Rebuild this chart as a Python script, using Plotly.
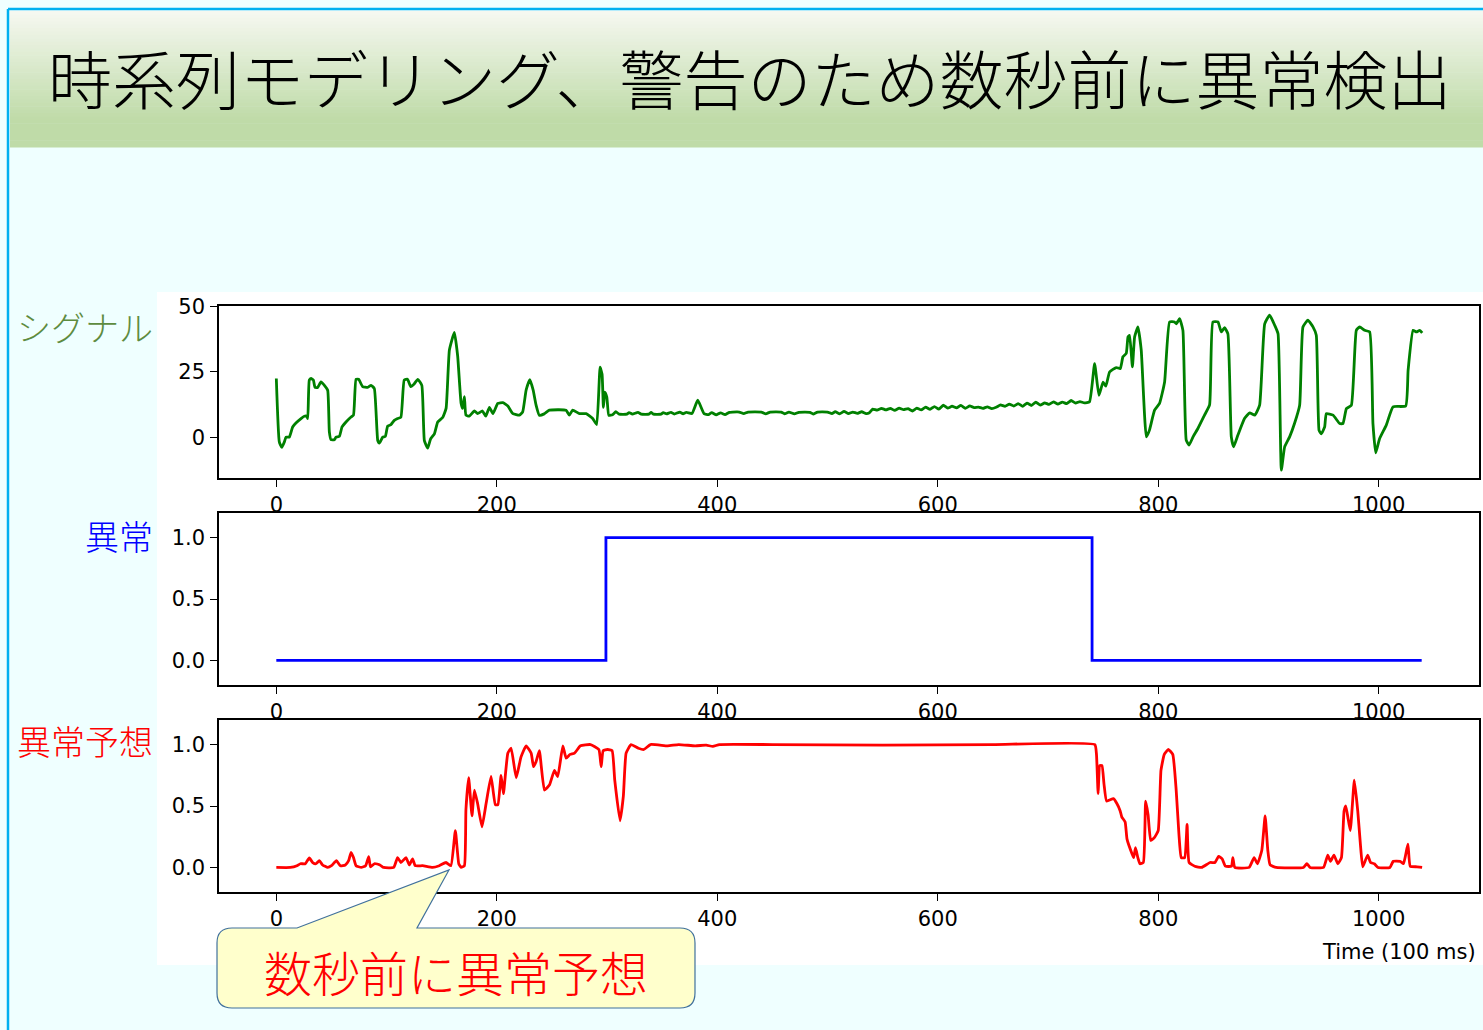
import plotly.graph_objects as go

W, H = 1483, 1030

# ---------------- data ----------------
signal_t = [0, 2.7, 5, 7.3, 8.8, 11.8, 14.8, 17.8, 22.4, 25.4, 27.5, 28.5, 29.9, 31.5, 33.6, 35.1, 37.5, 40.5, 43.6, 46.6,
            48.1, 49.6, 52.6, 54.2, 57.2, 59.6, 63.2, 67.8, 70, 72.3, 74.7, 78.3, 82.9, 85.9, 88.9, 92, 93.5, 96.5, 98.9,
            101, 104, 107, 110, 113, 116, 119, 122, 125, 128.3, 132, 134.3, 137.3, 140, 143.4, 146.4, 150.9, 154, 157,
            161.5, 164.5, 167.6, 169, 170.6, 172, 175, 179.7, 182.6, 187, 190, 193.3, 196.5, 200.9, 205.5, 210, 214.6,
            220.5, 223.5, 226.6, 230, 233, 235.6, 238.5, 243, 247.7, 262.8, 265.8, 268.8, 275, 281, 287, 290.6, 293.7,
            295.5, 296.7, 298, 299.8, 301.6,
            305, 308, 311, 318, 320, 323, 328, 331, 338, 340, 342, 349, 351, 354, 358, 361, 366, 369, 372, 377, 382.3,
            388, 392, 395, 399, 403, 407, 411, 414, 420, 424, 428, 440, 444, 448, 458, 461, 465, 470, 474, 484, 487, 491,
            500, 504, 507, 511, 515, 519, 523, 527, 531, 535, 538, 541, 545, 549, 553, 557, 561, 565, 569, 573, 577, 581,
            585, 589, 593, 597, 601, 605, 609, 613, 617, 621, 625, 629, 633, 637, 641, 645, 649, 653, 657, 661, 665, 669,
            673, 677, 681, 685, 689, 693, 697, 701, 705, 709, 713, 717, 721, 725, 729, 733, 737.7,
            742.3, 746.2, 750, 752.5, 755.9, 762, 765.6, 768, 771, 772.6, 774, 776.6, 778.6, 781.6, 784.6, 789.2, 792,
            796.7, 801.2, 805.8, 810.3, 814.8, 816.5, 819.4, 822.4, 825.4, 828, 831.6, 836, 842, 846.6, 849.6, 854.2,
            857.2, 860.2, 863.2, 866.3, 868.4, 872.3, 878.4, 883, 887.6, 892, 896.6, 901.1, 905.7, 908.7, 911.7, 914.7,
            919.2, 923.7, 928.3, 931.3, 935.8, 940.4, 943.4, 945.9, 948, 951, 952.5, 958.6, 964.6, 967.6, 970.7, 975.2,
            979.7, 982.7, 987.3, 991.8, 994.8, 997.3, 1000.8, 1006.9, 1013, 1024.5, 1026.7, 1031.2, 1034.2, 1037.2, 1039.5]
signal_v = [22.4, -1.8, -3.9, -1.8, 0, 0, 3.9, 5.4, 7.1, 8, 8, 7.1, 21.8, 22.4, 21.8, 19, 19, 21.1, 19.8, 17.9,
            2, -1, -1, 0, 0.3, 3.9, 5.8, 7.7, 8.4, 22.1, 22.1, 19.3, 19, 19.8, 18.6, -1.3, -2.3, 0, 0.3,
            4.2, 4.8, 6.4, 7.1, 7.6, 21.8, 22.1, 19.3, 20.3, 22.1, 19.8, -1.3, -4.2, -0.6, 1.3, 5.8, 7.5, 11, 33.3,
            40, 31, 13, 11, 15.5, 8.4, 8, 10, 9, 10, 8, 11.4, 9, 12.9, 13.2, 11.9, 9,
            8.4, 9.7, 18, 22, 18, 12.3, 8.4, 8.9, 10.3, 10.3, 8.4, 10.3, 9, 9, 7.1, 4.8, 26.7,
            24, 11.4, 17.2, 15.3, 8.3,
            8.6, 9.7, 8.8, 8.8, 9.4, 8.8, 9.5, 8.8, 8.8, 9.5, 8.8, 8.8, 9.4, 8.9, 9.5, 8.8, 9.6, 8.9, 9.5, 9.0, 14.1,
            9.0, 8.6, 9.4, 8.5, 9.3, 8.6, 9.5, 9.6, 9.6, 9.0, 9.6, 9.6, 8.9, 9.6, 9.6, 8.9, 9.6, 8.9, 9.5, 9.5, 8.8, 9.6,
            9.6, 9.0, 9.7, 8.9, 9.8, 9.0, 9.6, 9.1, 9.7, 9.0, 9.3, 10.7, 10.3, 11.0, 10.4, 11.0, 10.2, 11.1, 10.5, 10.9,
            10.0, 11.1, 10.4, 11.5, 10.6, 11.7, 10.7, 12.2, 11.1, 11.8, 11.2, 12.1, 11.0, 11.9, 11.3, 11.5, 11.0, 11.6,
            10.9, 11.4, 12.3, 11.8, 12.6, 11.9, 12.8, 11.8, 13.0, 12.1, 13.4, 12.2, 13.1, 12.5, 13.5, 12.6, 13.4, 12.8,
            14.0, 13.0, 13.6, 13.1, 13.5,
            28.1, 16, 21, 19.5, 24.9, 26.6, 26.2, 30.7, 32, 38.3, 38.9, 26.9, 38.3, 42.1, 33.2, 0.1, 2.6,
            10.3, 12.9, 21.1, 44, 44, 43.3, 45.3, 40.8, -1.1, -3, 0.1, 3.3, 8.4, 12.3, 44, 44,
            40.2, 41.8, 39.5, 0.1, -3.7, 0.8, 7.2, 9.3, 8.4, 12.2, 43.3, 46.6, 42.7, 39.5, -12.6, -3.7,
            0.1, 5.3, 12.2, 42.1, 44.7, 42.1, 38.9, 2.6, 1.3, 3.9, 9, 8.4, 5.2, 5.2, 10.9, 12.2,
            40.8, 42.1, 40.8, 40.2, 5.2, -6, -0.6, 4.6, 11.6, 11.9, 25.6, 40.8, 40.2, 40.8, 39.8]

anomaly_t = [0, 299, 740, 1039]
anomaly_v = [0, 1, 0, 0]

pred_t = [0, 12.7, 18.7, 21.8, 26.3, 29.9, 33, 36, 39, 42, 46.6, 50, 54.5, 58, 62.6, 65.6, 67.8, 70, 72.3, 77, 81,
          83.8, 85.4, 89, 94, 97.4, 106.5, 110, 113, 117.6, 120.6, 123.6, 126, 132.7, 141.8, 147.8, 153.9, 158.4,
          162.4, 165.5, 167.6, 170.6, 172, 174.5, 177.5, 179.7, 182.6, 186.6, 190.3, 194.8, 198.7, 201, 203.9, 206,
          210, 213, 217.6, 222, 226.6, 231.2, 233.3, 235.6, 238.6, 243.2, 247.7, 252.3, 255.3, 259.9, 262.9, 266.5,
          270.5, 275.9, 285, 292.6, 294.7, 296.5, 300.5, 304.6, 307, 311.8, 314.8, 317.3, 321.8, 328.5, 333.4, 339.4,
          355, 365, 380, 390, 396, 402, 450, 550, 650, 742.5,
          744, 745.5, 747, 749, 750.8, 753.2, 759.4, 762.5, 765.5, 767, 770, 771.7, 776.3, 777.8, 779.4, 781.5,
          783.4, 786.5, 788.6, 790.8, 793.2, 796.3, 800, 802.5, 805.5, 809.2, 813.2, 816.3, 818.8, 820.9, 824,
          826.2, 828, 833.2, 839.4, 847, 851.5, 854.8, 858, 861, 866.5, 867.7, 869.5, 882.5, 887, 890, 894, 897,
          899.4, 901.5, 907, 931.7, 934.8, 937.8, 950, 953.8, 956.3, 959.4, 963, 966.2, 968.6, 970.2, 974.2, 977.9,
          981, 983.4, 985.5, 990, 992.6, 996, 999.4, 1010.2, 1013.2, 1019.4, 1022.5, 1026.5, 1028.6, 1034.8, 1039.4]
pred_v = [0, 0, 0.014, 0.03, 0.03, 0.077, 0.04, 0.03, 0.055, 0.02, 0, 0.014, 0.055, 0.014, 0.02, 0.055, 0.123, 0.08,
          0.014, 0, 0.014, 0.088, 0.005, 0.03, 0.02, 0, 0, 0.08, 0.04, 0.08, 0.02, 0.07, 0.014, 0.014, 0, 0.014,
          0.04, 0.014, 0.30, 0.03, 0, 0.014, 0.47, 0.73, 0.42, 0.63, 0.52, 0.33, 0.52, 0.74, 0.51, 0.51, 0.75, 0.60,
          0.93, 0.97, 0.73, 0.90, 0.99, 0.93, 0.82, 0.86, 0.95, 0.63, 0.67, 0.79, 0.74, 0.99, 0.89, 0.92, 0.93,
          0.99, 1.0, 0.96, 0.82, 0.95, 0.96, 0.95, 0.71, 0.38, 0.58, 0.93, 1.0, 0.97, 0.96, 1.0,
          0.99, 1.0, 0.99, 0.995, 0.985, 1.0, 1.0, 0.995, 1.0, 1.0,
          0.92, 0.60, 0.83, 0.83, 0.68, 0.54, 0.56, 0.52, 0.46, 0.41, 0.37, 0.23, 0.11, 0.08, 0.16, 0.08,
          0.03, 0.04, 0.54, 0.43, 0.22, 0.24, 0.30, 0.79, 0.92, 0.96, 0.92, 0.63, 0.27, 0.08, 0.08,
          0.35, 0.04, 0.01, 0, 0.04, 0.04, 0.09, 0.07, 0.01, 0.01, 0.08, 0, 0, 0.08, 0.03, 0.14, 0.42,
          0.14, 0.02, 0, 0, 0.03, 0, 0, 0.10, 0.05, 0.10, 0.03, 0.08, 0.46, 0.50, 0.30, 0.71,
          0.46, 0.19, 0.005, 0.10, 0.04, 0.03, 0, 0, 0.05, 0.05, 0.03, 0.19, 0.01, 0.005, 0]

x_ticks = [0, 200, 400, 600, 800, 1000]
signal_ticks = [0, 25, 50]
prob_ticks = [0.0, 0.5, 1.0]

title_text = "時系列モデリング、警告のため数秒前に異常検出"
row_labels = ["シグナル", "異常", "異常予想"]
callout_text = "数秒前に異常予想"
xlabel_text = "Time (100 ms)"

# ---------------- helpers ----------------
def fx(px):
    return px / W

def fy(py):
    return 1 - py / H

fig = go.Figure()

fig.add_trace(go.Scatter(x=signal_t, y=signal_v, mode="lines",
                         line=dict(color="#008000", width=2.8, shape="spline", smoothing=0.4),
                         xaxis="x", yaxis="y", showlegend=False, hoverinfo="skip"))
fig.add_trace(go.Scatter(x=anomaly_t, y=anomaly_v, mode="lines", line=dict(color="#0000FF", width=2.8, shape="hv"),
                         xaxis="x2", yaxis="y2", showlegend=False, hoverinfo="skip"))
fig.add_trace(go.Scatter(x=pred_t, y=pred_v, mode="lines",
                         line=dict(color="#FF0000", width=2.8, shape="spline", smoothing=0.4),
                         xaxis="x3", yaxis="y3", showlegend=False, hoverinfo="skip"))

x_dom = [fx(219), fx(1479)]
doms = [(306, 478), (513, 685), (720, 892)]
tickfont = dict(family="DejaVu Sans", size=21, color="#000000")

common_x = dict(range=[-52, 1091], tickvals=x_ticks, ticks="outside", ticklen=7, tickwidth=1.3, tickcolor="#000",
                showline=True, linecolor="#000", linewidth=1.5, mirror=True, showgrid=False, zeroline=False,
                tickfont=tickfont, ticklabelstandoff=0, domain=x_dom, automargin=False)
common_y = dict(ticks="outside", ticklen=7, tickwidth=1.3, tickcolor="#000", showline=True, linecolor="#000",
                linewidth=1.5, mirror=True, showgrid=False, zeroline=False, tickfont=tickfont, ticklabelstandoff=1,
                automargin=False)

layout = dict(width=W, height=H, autosize=False, margin=dict(l=0, r=0, t=0, b=0, pad=0, autoexpand=False),
              paper_bgcolor="#EFFFFF", plot_bgcolor="#FFFFFF", showlegend=False)
for i, (top, bot) in enumerate(doms):
    sfx = "" if i == 0 else str(i + 1)
    xa = dict(common_x)
    xa["anchor"] = "y" + sfx
    ya = dict(common_y)
    ya["anchor"] = "x" + sfx
    ya["domain"] = [fy(bot), fy(top)]
    if i == 0:
        ya["range"] = [-15.6, 50.1]
        ya["tickvals"] = signal_ticks
    else:
        ya["range"] = [-0.2, 1.2]
        ya["tickvals"] = prob_ticks
        ya["tickformat"] = ".1f"
    layout["xaxis" + sfx] = xa
    layout["yaxis" + sfx] = ya
fig.update_layout(**layout)

shapes = []
# white chart image background
shapes.append(dict(type="rect", xref="paper", yref="paper", x0=fx(157), x1=fx(1483), y0=fy(965), y1=fy(292),
                   fillcolor="#FFFFFF", line=dict(width=0), layer="below"))
# title banner gradient
top_c = (246, 248, 241)
bot_c = (191, 219, 168)
nb = 40
y_start, y_end = 11, 147
for k in range(nb):
    a = y_start + (y_end - y_start) * k / nb
    b = y_start + (y_end - y_start) * (k + 1) / nb
    f = min(1.0, (k + 0.5) / (nb * 0.8))
    c = tuple(int(round(top_c[j] + (bot_c[j] - top_c[j]) * f)) for j in range(3))
    shapes.append(dict(type="rect", xref="paper", yref="paper", x0=fx(10), x1=fx(1483), y0=fy(b + 0.6), y1=fy(a),
                       fillcolor="rgb(%d,%d,%d)" % c, line=dict(width=0), layer="below"))
# blue frame
shapes.append(dict(type="line", xref="paper", yref="paper", x0=fx(8), x1=fx(1483), y0=fy(9), y1=fy(9),
                   line=dict(color="#00B0F0", width=2.5)))
shapes.append(dict(type="line", xref="paper", yref="paper", x0=fx(8), x1=fx(8), y0=fy(9), y1=fy(1030),
                   line=dict(color="#00B0F0", width=2.5)))
# callout balloon
pts = [("M", 232, 928), ("L", 297, 928), ("L", 449, 870), ("L", 417, 928), ("L", 680, 928)]
path = ""
for cmd, px, py in pts:
    path += "%s %.5f %.5f " % (cmd, fx(px), fy(py))
def q(cx, cy, ex, ey):
    return "Q %.5f %.5f %.5f %.5f " % (fx(cx), fy(cy), fx(ex), fy(ey))
def l(px, py):
    return "L %.5f %.5f " % (fx(px), fy(py))
path += q(695, 928, 695, 943) + l(695, 993) + q(695, 1008, 680, 1008) + l(232, 1008) + q(217, 1008, 217, 993)
path += l(217, 943) + q(217, 928, 232, 928) + "Z"
shapes.append(dict(type="path", xref="paper", yref="paper", path=path, fillcolor="#FFFFCC",
                   line=dict(color="#41719C", width=1.2)))
fig.update_layout(shapes=shapes)

ann = []
ann.append(dict(text=title_text, x=fx(750), y=fy(76), xref="paper", yref="paper", showarrow=False,
                xanchor="center", yanchor="middle",
                font=dict(family="Noto Sans CJK JP", size=64, color="#000000", weight=300)))
label_colors = ["#5E8C3F", "#0000FF", "#FF0000"]
label_y = [326, 535, 740]
for txt, col, yy in zip(row_labels, label_colors, label_y):
    ann.append(dict(text=txt, x=fx(155), y=fy(yy), xref="paper", yref="paper", showarrow=False,
                    xanchor="right", yanchor="middle",
                    font=dict(family="Noto Sans CJK JP", size=34, color=col, weight=300)))
ann.append(dict(text=callout_text, x=fx(456), y=fy(971), xref="paper", yref="paper", showarrow=False,
                xanchor="center", yanchor="middle",
                font=dict(family="Noto Sans CJK JP", size=48, color="#FF0000", weight=300)))
ann.append(dict(text=xlabel_text, x=fx(1478), y=fy(952), xref="paper", yref="paper", showarrow=False,
                xanchor="right", yanchor="middle", font=dict(family="DejaVu Sans", size=21, color="#000000")))
fig.update_layout(annotations=ann)

fig.write_html("out.html", config={"displayModeBar": False},
               post_script="document.body.style.margin='0';document.body.style.padding='0';"
                           "document.documentElement.style.overflow='hidden';")
